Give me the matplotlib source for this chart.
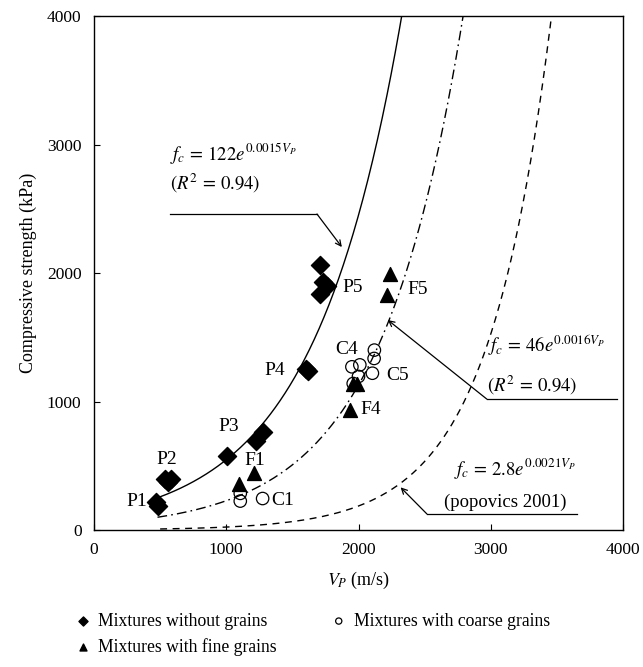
import numpy as np
import matplotlib.pyplot as plt

plt.rcParams['font.family'] = 'Liberation Serif'
plt.rcParams['mathtext.fontset'] = 'stix'

# measured points (Vp in m/s, strength in kPa)
p_vp = [470, 482, 535, 560, 580, 1003, 1222, 1275, 1600, 1615, 1710, 1730, 1760, 1710]
p_fc = [215, 190, 400, 375, 395, 576, 690, 760, 1255, 1240, 2060, 1930, 1895, 1835]

f_vp = [1096, 1212, 1935, 1960, 1985, 2212, 2237]
f_fc = [355, 440, 935, 1135, 1140, 1830, 1995]

c_vp = [1106, 1106, 1275, 1950, 2010, 2000, 1960, 2120, 2118, 2105]
c_fc = [285, 225, 245, 1270, 1285, 1195, 1140, 1400, 1335, 1220]

# fitted curves fc = a*exp(b*Vp)
fit_a = [122, 46, 2.8]
fit_b = [0.0015, 0.0016, 0.0021]
fit_start = [495, 480, 500]

fig = plt.figure(figsize=(6.43, 6.67), dpi=100)
ax = fig.add_axes([0.1462, 0.2054, 0.8227, 0.7706])

styles = ['-', (0, (7, 3, 1.2, 3)), (0, (5, 4))]
for a, b, s0, ls in zip(fit_a, fit_b, fit_start, styles):
    s1 = np.log(4000 / a) / b
    v = np.linspace(s0, s1, 300)
    ax.plot(v, a * np.exp(b * v), color='black', lw=1.0, ls=ls)

ax.scatter(p_vp, p_fc, marker='D', s=85, color='black', zorder=3,
           label='Mixtures without grains')
ax.scatter(f_vp, f_fc, marker='^', s=100, color='black', zorder=3,
           label='Mixtures with fine grains')
ax.scatter(c_vp, c_fc, marker='o', s=80, facecolor='none', edgecolor='black',
           lw=0.9, zorder=3, label='Mixtures with coarse grains')

fs = 14
labels = [('P1', 327, 218), ('P2', 548, 545), ('P3', 1020, 809), ('P4', 1364, 1245),
          ('P5', 1958, 1891), ('F1', 1213, 537), ('F4', 2090, 934), ('F5', 2449, 1868),
          ('C1', 1425, 233), ('C4', 1908, 1401), ('C5', 2298, 1206)]
for t, x, y in labels:
    ax.text(x, y, t, fontsize=fs, ha='center', va='center')

# equation annotations
efs = 13.5
ax.text(574, 2880, r'$f_c\,=\,122e^{0.0015V_P}$', fontsize=efs)
ax.text(574, 2650, r'$(R^2\,=\,0.94)$', fontsize=efs)
ax.plot([574, 1686], [2459, 2459], color='black', lw=0.9)
ax.annotate('', xy=(1874, 2202), xytext=(1686, 2459),
            arrowprops=dict(arrowstyle='->', color='black', lw=0.9, shrinkA=0, shrinkB=0))

ax.text(2978, 1385, r'$f_c\,=\,46e^{0.0016V_P}$', fontsize=efs)
ax.text(2970, 1075, r'$(R^2\,=\,0.94)$', fontsize=efs)
ax.plot([2970, 3953], [1019, 1019], color='black', lw=0.9)
ax.annotate('', xy=(2222, 1634), xytext=(2970, 1019),
            arrowprops=dict(arrowstyle='->', color='black', lw=0.9, shrinkA=0, shrinkB=0))

ax.text(2721, 430, r'$f_c\,=\,2.8e^{0.0021V_P}$', fontsize=efs)
ax.text(2650, 180, '(popovics 2001)', fontsize=efs)
ax.plot([2517, 3651], [125, 125], color='black', lw=0.9)
ax.annotate('', xy=(2318, 332), xytext=(2517, 125),
            arrowprops=dict(arrowstyle='->', color='black', lw=0.9, shrinkA=0, shrinkB=0))

ax.set_xlim(0, 4000)
ax.set_ylim(0, 4000)
ax.set_xticks([0, 1000, 2000, 3000, 4000])
ax.set_yticks([0, 1000, 2000, 3000, 4000])
ax.tick_params(direction='in', length=4, labelsize=12.5, pad=9)
for sp in ax.spines.values():
    sp.set_linewidth(1.0)
ax.set_xlabel(r'$V_P$ (m/s)', fontsize=13, labelpad=8)
ax.set_ylabel('Compressive strength (kPa)', fontsize=13, labelpad=7)

fig.legend(loc='upper left', bbox_to_anchor=(0.105, 0.092), ncol=2, frameon=False,
           fontsize=12.7, handletextpad=0.35, columnspacing=3.0, labelspacing=0.45,
           markerscale=0.5, handlelength=1.0, borderaxespad=0)

fig.savefig('out.png', dpi=100)
